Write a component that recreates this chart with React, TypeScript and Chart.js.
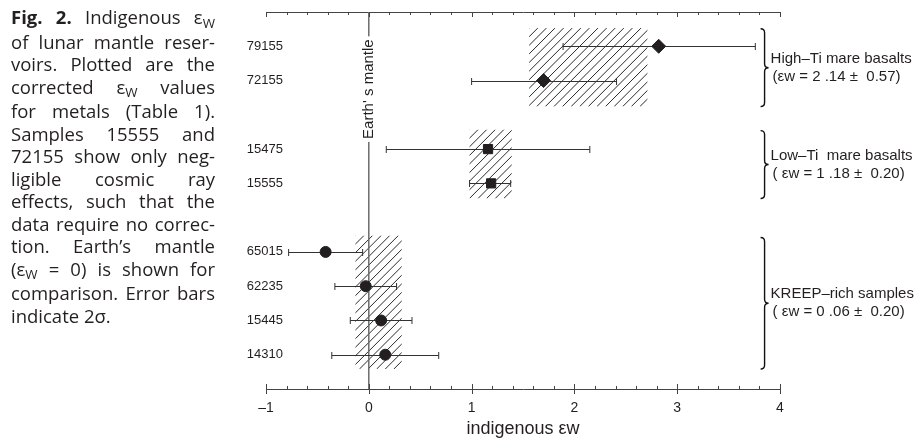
import React, { useEffect, useRef } from 'react';
import { Chart, registerables } from 'chart.js';

Chart.register(...registerables);

// ---------- data ----------
const samples = ['79155', '72155', '15475', '15555', '65015', '62235', '15445', '14310'];
const sampleRows = [1, 2, 4, 5, 7, 8, 9, 10];
const sampleValues = [2.82, 1.7, 1.16, 1.19, -0.42, -0.03, 0.12, 0.16];
const errorLow = [1.89, 1.0, 0.17, 0.98, -0.78, -0.33, -0.18, -0.36];
const errorHigh = [3.76, 2.41, 2.15, 1.38, -0.06, 0.27, 0.42, 0.68];
const sampleGroup = [0, 0, 1, 1, 2, 2, 2, 2];

const groupNames = ['High–Ti mare basalts', 'Low–Ti  mare basalts', 'KREEP–rich samples'];
const groupStats = ['(εw = 2 .14 ±  0.57)', '( εw = 1 .18 ±  0.20)', '( εw = 0 .06 ±  0.20)'];
const groupMarkers = ['rectRot', 'rect', 'circle'];
const groupMarkerRadius = [7, 6.5, 5.5];
const boxLow = [1.56, 0.98, -0.13];
const boxHigh = [2.71, 1.39, 0.32];
const boxTop = [0.47, 3.43, 6.52];
const boxBottom = [2.76, 5.44, 10.42];
const braceTop = [0.49, 3.46, 6.58];
const braceBottom = [2.76, 5.44, 10.42];
const braceX = 3.85;

const xMin = -1;
const xMax = 4;
const xMinorStep = 0.2;
const yMin = 0;
const yMax = 11;
const referenceValue = 0;
const referenceLabel = "Earth' s mantle";
const referenceLabelRow = 2.25;
const axisTitle = 'indigenous εw';

const captionLines = [
  'Indigenous εW',
  'of lunar mantle reser-',
  'voirs. Plotted are the',
  'corrected εW values',
  'for metals (Table 1).',
  'Samples 15555 and',
  '72155 show only neg-',
  'ligible cosmic ray',
  'effects, such that the',
  'data require no correc-',
  'tion. Earth’s mantle',
  '(εW = 0) is shown for',
  'comparison. Error bars',
  'indicate 2σ.',
];
const captionLead = 'Fig. 2.';

const INK = '#231f20';

function isMajor(v: number) {
  return Math.abs(v - Math.round(v)) < 1e-6;
}

function renderEps(s: string) {
  const parts = s.split('εW');
  const out: any[] = [];
  parts.forEach((p, i) => {
    out.push(<span key={'p' + i}>{p}</span>);
    if (i < parts.length - 1)
      out.push(
        <span key={'e' + i}>
          ε
          <span style={{ fontSize: '0.72em', position: 'relative', top: '0.3em' }}>W</span>
        </span>
      );
  });
  return out;
}

const decorPlugin = {
  id: 'decor',
  beforeDatasetsDraw(chart: any) {
    const { ctx, chartArea } = chart;
    const xs = chart.scales.x;
    const ys = chart.scales.y;
    // hatched boxes
    for (let g = 0; g < boxLow.length; g++) {
      const x1 = xs.getPixelForValue(boxLow[g]);
      const x2 = xs.getPixelForValue(boxHigh[g]);
      const y1 = ys.getPixelForValue(boxTop[g]);
      const y2 = ys.getPixelForValue(boxBottom[g]);
      ctx.save();
      ctx.beginPath();
      ctx.rect(x1, y1, x2 - x1, y2 - y1);
      ctx.clip();
      ctx.beginPath();
      ctx.strokeStyle = '#2a2a2a';
      ctx.lineWidth = 1;
      const h = y2 - y1;
      for (let s = x1 - h; s < x2 + h; s += 8.6) {
        ctx.moveTo(s, y2);
        ctx.lineTo(s + h, y1);
      }
      ctx.stroke();
      ctx.restore();
    }
    // reference line
    const rx = xs.getPixelForValue(referenceValue);
    ctx.save();
    ctx.strokeStyle = '#6b6b6b';
    ctx.lineWidth = 1.5;
    ctx.beginPath();
    ctx.moveTo(rx, chartArea.top);
    ctx.lineTo(rx, chartArea.bottom);
    ctx.stroke();
    ctx.font = '15px "Liberation Sans", Arial, sans-serif';
    const tw = ctx.measureText(referenceLabel).width;
    const ty = ys.getPixelForValue(referenceLabelRow);
    ctx.fillStyle = '#ffffff';
    ctx.fillRect(rx - 9, ty - tw / 2 - 3, 18, tw + 6);
    ctx.translate(rx, ty);
    ctx.rotate(-Math.PI / 2);
    ctx.fillStyle = INK;
    ctx.textAlign = 'center';
    ctx.textBaseline = 'middle';
    ctx.fillText(referenceLabel, 0, 0);
    ctx.restore();
    // error bars
    ctx.save();
    ctx.strokeStyle = '#333';
    ctx.lineWidth = 1;
    ctx.beginPath();
    for (let i = 0; i < samples.length; i++) {
      const y = Math.round(ys.getPixelForValue(sampleRows[i])) + 0.5;
      const a = xs.getPixelForValue(errorLow[i]);
      const b = xs.getPixelForValue(errorHigh[i]);
      ctx.moveTo(a, y);
      ctx.lineTo(b, y);
      ctx.moveTo(a, y - 3.5);
      ctx.lineTo(a, y + 3.5);
      ctx.moveTo(b, y - 3.5);
      ctx.lineTo(b, y + 3.5);
    }
    ctx.stroke();
    ctx.restore();
  },
  afterDraw(chart: any) {
    const { ctx, chartArea } = chart;
    const xs = chart.scales.x;
    const ys = chart.scales.y;
    ctx.save();
    // axis ticks
    ctx.strokeStyle = '#444';
    ctx.lineWidth = 1;
    ctx.beginPath();
    for (const t of xs.ticks) {
      const px = Math.round(xs.getPixelForValue(t.value)) + 0.5;
      const major = isMajor(t.value);
      const yb = chartArea.bottom;
      const yt = chartArea.top;
      if (major) {
        ctx.moveTo(px, yb - 5);
        ctx.lineTo(px, yb + 5);
        ctx.moveTo(px, yt);
        ctx.lineTo(px, yt + 5);
      } else {
        ctx.moveTo(px, yb - 3);
        ctx.lineTo(px, yb);
        ctx.moveTo(px, yt);
        ctx.lineTo(px, yt + 3);
      }
    }
    ctx.stroke();
    // sample labels
    ctx.fillStyle = INK;
    ctx.font = '13px "Liberation Sans", Arial, sans-serif';
    ctx.textAlign = 'right';
    ctx.textBaseline = 'middle';
    const lx = xs.getPixelForValue(xMin) + 17;
    for (let i = 0; i < samples.length; i++) {
      ctx.fillText(samples[i], lx, ys.getPixelForValue(sampleRows[i]));
    }
    // braces and group labels
    const bx = xs.getPixelForValue(braceX);
    ctx.strokeStyle = '#111';
    ctx.lineWidth = 1.4;
    for (let g = 0; g < braceTop.length; g++) {
      const y1 = ys.getPixelForValue(braceTop[g]);
      const y2 = ys.getPixelForValue(braceBottom[g]);
      const ym = (y1 + y2) / 2;
      const r = 4;
      ctx.beginPath();
      ctx.moveTo(bx - r, y1);
      ctx.quadraticCurveTo(bx, y1, bx, y1 + r);
      ctx.lineTo(bx, ym - r);
      ctx.quadraticCurveTo(bx, ym, bx + r, ym);
      ctx.quadraticCurveTo(bx, ym, bx, ym + r);
      ctx.lineTo(bx, y2 - r);
      ctx.quadraticCurveTo(bx, y2, bx - r, y2);
      ctx.stroke();
      ctx.font = '15px "Liberation Sans", Arial, sans-serif';
      ctx.textAlign = 'left';
      ctx.fillText(groupNames[g], bx + 6, ym - 9);
      ctx.fillText(groupStats[g], bx + 8, ym + 9);
    }
    ctx.restore();
  },
};

export default function App() {
  const ref = useRef<HTMLCanvasElement>(null);
  useEffect(() => {
    if (!ref.current) return;
    const datasets = groupMarkers.map((m, g) => ({
      label: groupNames[g],
      data: samples
        .map((_, i) => i)
        .filter((i) => sampleGroup[i] === g)
        .map((i) => ({ x: sampleValues[i], y: sampleRows[i] })),
      pointStyle: m as any,
      pointRadius: groupMarkerRadius[g],
      backgroundColor: INK,
      borderColor: INK,
      borderWidth: 1,
      showLine: false,
    }));
    const chart = new Chart(ref.current, {
      type: 'scatter',
      data: { datasets },
      plugins: [decorPlugin],
      options: {
        responsive: false,
        animation: false,
        devicePixelRatio: 1,
        layout: { padding: { left: 266, right: 140, top: 12, bottom: 0 } },
        plugins: { legend: { display: false }, tooltip: { enabled: false } },
        scales: {
          x: {
            type: 'linear',
            position: 'bottom',
            min: xMin,
            max: xMax,
            grid: { display: false, drawTicks: false },
            border: { display: true, color: '#444', width: 1 },
            ticks: {
              stepSize: xMinorStep,
              autoSkip: false,
              maxRotation: 0,
              padding: 10.6,
              color: INK,
              font: { family: '"Liberation Sans", Arial, sans-serif', size: 14 },
              callback: (v: any) => {
                const n = Number(v);
                if (!isMajor(n)) return '';
                const r = Math.round(n);
                return r < 0 ? '–' + Math.abs(r) : String(r);
              },
            },
            title: {
              display: true,
              text: axisTitle,
              color: INK,
              padding: { top: -7, bottom: 0 },
              font: { family: '"Liberation Sans", Arial, sans-serif', size: 18, lineHeight: 1 },
            },
          },
          x2: {
            type: 'linear',
            position: 'top',
            min: xMin,
            max: xMax,
            grid: { display: false, drawTicks: false },
            border: { display: true, color: '#444', width: 1 },
            ticks: { display: false },
          },
          y: {
            type: 'linear',
            display: false,
            min: yMin,
            max: yMax,
            reverse: true,
          },
        },
      },
    });
    return () => chart.destroy();
  }, []);

  return (
    <div style={{ position: 'fixed', left: 0, top: 0, width: 920, height: 438, background: '#fff', overflow: 'hidden' }}>
      <canvas ref={ref} width={920} height={438} style={{ position: 'absolute', left: 0, top: 0, width: 920, height: 438 }} />
      <div
        style={{
          position: 'absolute',
          left: 11,
          top: 6,
          width: 204,
          fontFamily: '"Open Sans", sans-serif',
          fontSize: 18.5,
          lineHeight: '22.5px',
          color: INK,
        }}
      >
        {captionLines.map((line, i) => (
          <div
            key={i}
            style={{
              whiteSpace: 'nowrap',
              textAlign: i === captionLines.length - 1 ? 'left' : 'justify',
              textAlignLast: i === captionLines.length - 1 ? 'left' : 'justify',
            }}
          >
            {i === 0 ? <b>{captionLead} </b> : null}
            {renderEps(line)}
          </div>
        ))}
      </div>
    </div>
  );
}
